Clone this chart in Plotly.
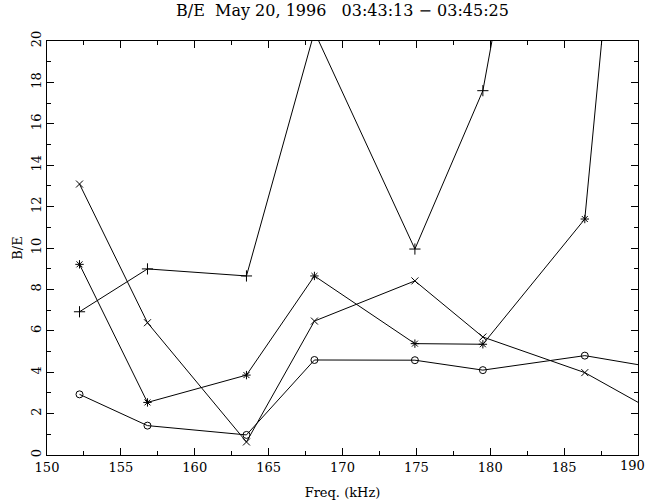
import plotly.graph_objects as go

freq = [152.2, 156.8, 163.5, 168.1, 174.9, 179.5, 186.4, 193.0]
circle_vals = [2.93, 1.42, 0.97, 4.59, 4.58, 4.1, 4.8, 4.0]
x_vals = [13.09, 6.39, 0.63, 6.47, 8.41, 5.7, 3.98, 1.35]
star_vals = [9.21, 2.54, 3.86, 8.65, 5.38, 5.35, 11.4, 61.0]
plus_vals = [6.92, 8.99, 8.65, 20.45, 9.95, 17.6, 44.5]

title_text = "B/E\u00a0\u00a0May 20, 1996\u00a0\u00a0 03:43:13 \u2212 03:45:25"
font_family = "DejaVu Serif"
fsize = 13

fig = go.Figure()

def add(xs, ys, sym, size):
    fig.add_trace(go.Scatter(
        x=xs, y=ys, mode="lines+markers",
        line=dict(color="black", width=1),
        marker=dict(symbol=sym, size=size, color="black", line=dict(color="black", width=1)),
        cliponaxis=True, showlegend=False))

add(freq, circle_vals, "circle-open", 7)
add(freq, x_vals, "x-thin-open", 7)
add(freq, star_vals, "asterisk-open", 7)
add(freq[:len(plus_vals)], plus_vals, "cross-thin-open", 8)

axis_common = dict(
    showgrid=False, zeroline=False, showline=True, linecolor="black", linewidth=1,
    mirror="ticks", ticks="inside", tickcolor="black", ticklen=7, tickwidth=1,
    automargin=False,
    tickfont=dict(family=font_family, size=fsize, color="black"),
)

fig.update_layout(
    width=649, height=502,
    margin=dict(l=47, r=11, t=41, b=47),
    paper_bgcolor="white", plot_bgcolor="white",
    title=dict(text=title_text, x=0.5, xanchor="center", xref="paper", y=1, yref="container",
               yanchor="top", pad=dict(t=5),
               font=dict(family=font_family, size=16, color="black")),
    xaxis=dict(range=[150, 190], dtick=5, tick0=150,
               minor=dict(dtick=2.5, ticklen=4, ticks="inside", tickcolor="black"),
               title=dict(text="Freq. (kHz)", standoff=14,
                          font=dict(family=font_family, size=fsize, color="black")),
               **axis_common),
    yaxis=dict(range=[0, 20], dtick=2, tick0=0, tickangle=-90,
               minor=dict(dtick=1, ticklen=4, ticks="inside", tickcolor="black"),
               title=dict(text="B/E", standoff=3,
                          font=dict(family=font_family, size=fsize, color="black")),
               **axis_common),
    annotations=[dict(text="190", x=1, xref="paper", y=0, yref="paper", yanchor="top",
                      xanchor="right", xshift=9, yshift=-1, showarrow=False,
                      font=dict(family=font_family, size=fsize, color="black"))],
)

fig.write_html("out.html")
